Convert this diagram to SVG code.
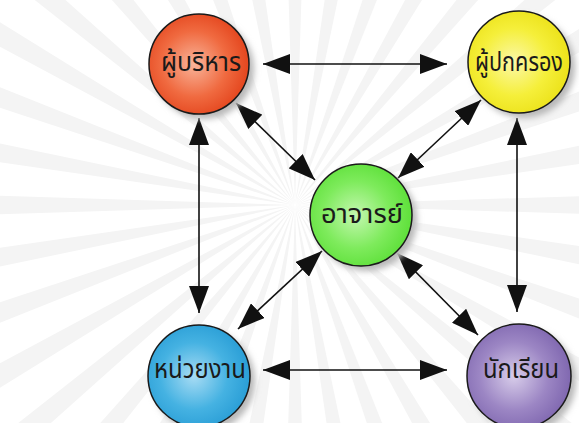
<svg xmlns="http://www.w3.org/2000/svg" width="579" height="423" viewBox="0 0 579 423">
<defs>
<style>
.lbl{font-family:"Noto Sans Thai","DejaVu Sans",sans-serif;font-size:27px;fill:#1a1a1a;text-anchor:middle;dominant-baseline:central}
.ring{stroke:#1a1a1a;stroke-width:1.5}
.conn{stroke:#111;stroke-width:1.6;fill:none;marker-start:url(#ah);marker-end:url(#ah)}
.ray{fill:#f4f4f4}
</style>
<marker id="ah" viewBox="0 0 27 20" refX="27" refY="10" markerWidth="27" markerHeight="20" markerUnits="userSpaceOnUse" orient="auto-start-reverse">
<path d="M0,0 L27,10 L0,20 Z" fill="#111"/>
</marker>
<path id="w" d="M295,205 L715,192 L715,218 Z"/>
<filter id="sh" x="-30%" y="-30%" width="160%" height="160%">
<feGaussianBlur stdDeviation="3"/>
</filter>
<radialGradient id="gRed" cx="45%" cy="50%" r="55%"><stop offset="0" stop-color="#f9b49a"/><stop offset="0.6" stop-color="#f06a40"/><stop offset="1" stop-color="#e4461e"/></radialGradient>
<radialGradient id="gYel" cx="45%" cy="50%" r="55%"><stop offset="0" stop-color="#fbf8a8"/><stop offset="0.6" stop-color="#f5ef3a"/><stop offset="1" stop-color="#ece21a"/></radialGradient>
<radialGradient id="gGrn" cx="45%" cy="50%" r="55%"><stop offset="0" stop-color="#c4f7b0"/><stop offset="0.6" stop-color="#7eeb5c"/><stop offset="1" stop-color="#5ee03a"/></radialGradient>
<radialGradient id="gBlu" cx="45%" cy="50%" r="55%"><stop offset="0" stop-color="#a8dcf4"/><stop offset="0.6" stop-color="#45b2e2"/><stop offset="1" stop-color="#2a9ed6"/></radialGradient>
<radialGradient id="gPur" cx="45%" cy="50%" r="55%"><stop offset="0" stop-color="#d8cdea"/><stop offset="0.6" stop-color="#9c86c4"/><stop offset="1" stop-color="#8068b0"/></radialGradient>
</defs>
<rect width="579" height="423" fill="#ffffff"/>
<g id="background" class="ray">
<use href="#w"/>
<use href="#w" transform="rotate(10 295 205)"/>
<use href="#w" transform="rotate(20 295 205)"/>
<use href="#w" transform="rotate(30 295 205)"/>
<use href="#w" transform="rotate(40 295 205)"/>
<use href="#w" transform="rotate(50 295 205)"/>
<use href="#w" transform="rotate(60 295 205)"/>
<use href="#w" transform="rotate(70 295 205)"/>
<use href="#w" transform="rotate(80 295 205)"/>
<use href="#w" transform="rotate(90 295 205)"/>
<use href="#w" transform="rotate(100 295 205)"/>
<use href="#w" transform="rotate(110 295 205)"/>
<use href="#w" transform="rotate(120 295 205)"/>
<use href="#w" transform="rotate(130 295 205)"/>
<use href="#w" transform="rotate(140 295 205)"/>
<use href="#w" transform="rotate(150 295 205)"/>
<use href="#w" transform="rotate(160 295 205)"/>
<use href="#w" transform="rotate(170 295 205)"/>
<use href="#w" transform="rotate(180 295 205)"/>
<use href="#w" transform="rotate(190 295 205)"/>
<use href="#w" transform="rotate(200 295 205)"/>
<use href="#w" transform="rotate(210 295 205)"/>
<use href="#w" transform="rotate(220 295 205)"/>
<use href="#w" transform="rotate(230 295 205)"/>
<use href="#w" transform="rotate(240 295 205)"/>
<use href="#w" transform="rotate(250 295 205)"/>
<use href="#w" transform="rotate(260 295 205)"/>
<use href="#w" transform="rotate(270 295 205)"/>
<use href="#w" transform="rotate(280 295 205)"/>
<use href="#w" transform="rotate(290 295 205)"/>
<use href="#w" transform="rotate(300 295 205)"/>
<use href="#w" transform="rotate(310 295 205)"/>
<use href="#w" transform="rotate(320 295 205)"/>
<use href="#w" transform="rotate(330 295 205)"/>
<use href="#w" transform="rotate(340 295 205)"/>
<use href="#w" transform="rotate(350 295 205)"/>
</g>
<g id="connectors">
<line class="conn" x1="263" y1="64" x2="447" y2="64"/>
<line class="conn" x1="263" y1="370" x2="447" y2="370"/>
<line class="conn" x1="199" y1="118" x2="199" y2="313"/>
<line class="conn" x1="517" y1="118" x2="517" y2="312"/>
<line class="conn" x1="236" y1="103" x2="315" y2="180"/>
<line class="conn" x1="481" y1="100" x2="398" y2="178"/>
<line class="conn" x1="322" y1="251" x2="238" y2="329"/>
<line class="conn" x1="397" y1="253" x2="478" y2="335"/>
</g>
<g id="n-admin">
<circle cx="204" cy="69" r="50" fill="#b8b8b8" filter="url(#sh)"/>
<circle class="ring" cx="199" cy="64" r="50" fill="url(#gRed)"/>
<text class="lbl" x="201" y="62" textLength="80" lengthAdjust="spacingAndGlyphs">ผู้บริหาร</text>
</g>
<g id="n-parent">
<circle cx="524" cy="67" r="51" fill="#b8b8b8" filter="url(#sh)"/>
<circle class="ring" cx="519" cy="62" r="51" fill="url(#gYel)"/>
<text class="lbl" x="519" y="62" font-size="25" textLength="88" lengthAdjust="spacingAndGlyphs">ผู้ปกครอง</text>
</g>
<g id="n-teacher">
<circle cx="366" cy="220" r="51" fill="#b8b8b8" filter="url(#sh)"/>
<circle class="ring" cx="361" cy="215" r="51" fill="url(#gGrn)"/>
<text class="lbl" x="362" y="214" textLength="82" lengthAdjust="spacingAndGlyphs">อาจารย์</text>
</g>
<g id="n-unit">
<circle cx="204" cy="381" r="51" fill="#b8b8b8" filter="url(#sh)"/>
<circle class="ring" cx="199" cy="376" r="51" fill="url(#gBlu)"/>
<text class="lbl" x="200" y="369" textLength="92" lengthAdjust="spacingAndGlyphs">หน่วยงาน</text>
</g>
<g id="n-student">
<circle cx="524" cy="381" r="52" fill="#b8b8b8" filter="url(#sh)"/>
<circle class="ring" cx="519" cy="376" r="52" fill="url(#gPur)"/>
<text class="lbl" x="521" y="369" textLength="76" lengthAdjust="spacingAndGlyphs">นักเรียน</text>
</g>
</svg>
